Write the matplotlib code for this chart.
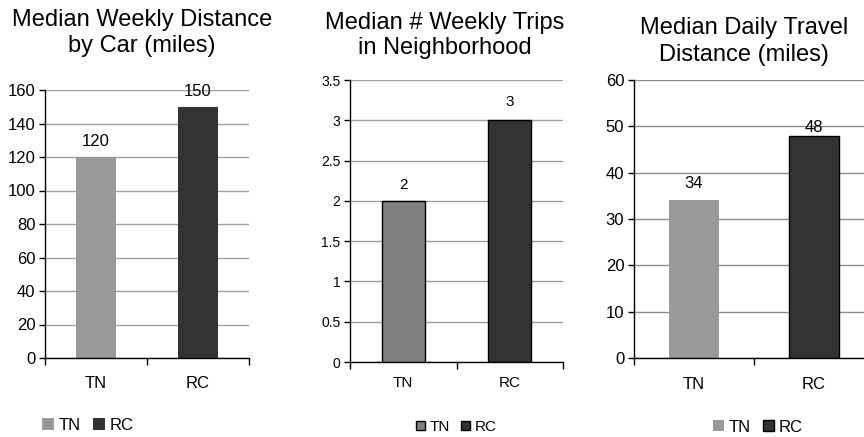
import numpy as np
import matplotlib.pyplot as plt
from matplotlib.patches import Patch

plt.rcParams['font.family'] = ['Liberation Sans', 'DejaVu Sans']

groups = ['TN', 'RC']

title1 = ['Median Weekly Distance', 'by Car (miles)']
car_miles = [120, 150]
ticks1 = [0, 20, 40, 60, 80, 100, 120, 140, 160]

title2 = ['Median # Weekly Trips', 'in Neighborhood']
trips = [2, 3]
ticks2 = [0, 0.5, 1, 1.5, 2, 2.5, 3, 3.5]
ticklabels2 = ['0', '0.5', '1', '1.5', '2', '2.5', '3', '3.5']

title3 = ['Median Daily Travel', 'Distance (miles)']
daily_miles = [34, 48]
ticks3 = [0, 10, 20, 30, 40, 50, 60]

W, H = 864, 437
fig = plt.figure(figsize=(W / 100, H / 100), dpi=100)


def make_axes(left, top, right, bottom):
    # pixel box -> figure fraction
    return fig.add_axes([left / W, (H - bottom) / H, (right - left) / W, (bottom - top) / H])


def title(cx, lines, baselines, fs=17):
    for line, b in zip(lines, baselines):
        fig.text(cx / W, (H - b) / H, line, ha='center', va='baseline', fontsize=fs)


def panel(ax, vals, ticks, colors, edges, width, fs, xfs, xpad, lfs, label_offsets,
          ticklabels=None, gridcolor='#a0a0a0'):
    x = np.arange(len(vals))
    ax.bar(x, vals, width=width, color=colors, edgecolor=edges, linewidth=1, zorder=3)
    ax.set_xlim(-0.5, len(vals) - 0.5)
    ax.set_ylim(ticks[0], ticks[-1])
    ax.set_yticks(ticks)
    if ticklabels is not None:
        ax.set_yticklabels(ticklabels)
    ax.set_xticks(x)
    ax.set_xticklabels(groups)
    ax.set_xticks(np.arange(len(vals) + 1) - 0.5, minor=True)
    ax.tick_params(axis='x', which='major', length=0, pad=xpad, labelsize=xfs)
    ax.tick_params(axis='x', which='minor', length=5, direction='out', width=1)
    ax.tick_params(axis='y', length=4, direction='out', width=1, labelsize=fs, pad=3)
    ax.yaxis.grid(True, color=gridcolor, linewidth=1, zorder=0)
    for s in ['top', 'right']:
        ax.spines[s].set_visible(False)
    for s in ['left', 'bottom']:
        ax.spines[s].set_linewidth(1)
        ax.spines[s].set_zorder(4)
    for xi, v, off in zip(x, vals, label_offsets):
        ax.annotate(str(v), (xi, v), xytext=(0, off), textcoords='offset points',
                    ha='center', va='center', fontsize=lfs, clip_on=False)


def legend(ax, handles, cx, cy, fs, hsize):
    ax.legend(handles=handles, labels=groups, loc='center',
              bbox_to_anchor=(cx / W, (H - cy) / H), bbox_transform=fig.transFigure,
              ncol=2, frameon=False, fontsize=fs, handlelength=hsize, handleheight=hsize,
              handletextpad=0.3, columnspacing=0.7, borderpad=0, borderaxespad=0)


# panel 1
ax1 = make_axes(45, 90, 249, 358)
panel(ax1, car_miles, ticks1, ['#999999', '#333333'], ['none', 'none'], 0.4,
      12, 12, 13, 12, [11, 11])
title(142, title1, [26, 52])
legend(ax1, [Patch(facecolor='#999999'), Patch(facecolor='#333333')], 88, 425, 12, 0.72)

# panel 2
ax2 = make_axes(350, 80, 563, 362)
panel(ax2, trips, ticks2, ['#808080', '#333333'], ['black', 'black'], 0.4,
      10, 11, 10, 11, [11.5, 13], ticklabels2)
title(445, title2, [29, 54])
legend(ax2, [Patch(facecolor='#808080', edgecolor='black'), Patch(facecolor='#333333', edgecolor='black')],
       456, 427, 11, 0.6)

# panel 3
ax3 = make_axes(634, 80, 874, 358)
panel(ax3, daily_miles, ticks3, ['#999999', '#333333'], ['none', 'black'], 0.41,
      12, 12, 14, 12, [12, 5.5], gridcolor='#8c8c8c')
title(744, title3, [34, 61])
legend(ax3, [Patch(facecolor='#999999'), Patch(facecolor='#333333', edgecolor='black')], 758, 427, 12, 0.66)

fig.savefig('out.png', dpi=100)
